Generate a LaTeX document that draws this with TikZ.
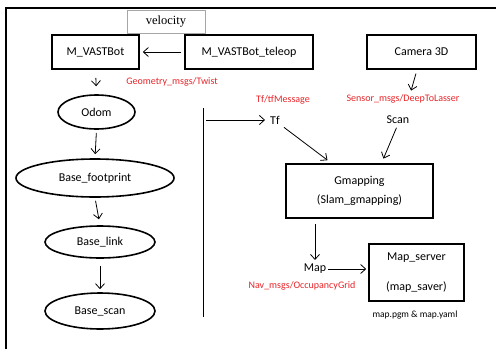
\documentclass[tikz,border=0pt]{standalone}
\usepackage{fontspec}
\setmainfont{Carlito}
\newfontfamily\serifface{Liberation Serif}
\usetikzlibrary{shapes.geometric,arrows.meta}
\definecolor{msgred}{RGB}{232,36,40}
\begin{document}
\begin{tikzpicture}[x=1pt,y=-1pt,
  box/.style={draw,line width=1.6pt,minimum width=#1,inner sep=0pt,font=\fontsize{12}{14}\selectfont},
  oval/.style={draw,ellipse,line width=1.6pt,inner sep=0pt,font=\fontsize{12}{14}\selectfont},
  lbl/.style={inner sep=0pt,font=\fontsize{12}{14}\selectfont},
  msg/.style={inner sep=0pt,text=msgred,font=\fontsize{10}{12}\selectfont},
  flow/.style={line width=0.8pt,-{Straight Barb[length=5pt,width=9pt]}},
  plain/.style={line width=1pt}]
\useasboundingbox (0,0) rectangle (496,349);
\fill[white] (0,0) rectangle (496,349);
% outer frame (top and left edges only)
\draw[line width=1.8pt] (6,349) -- (6,8) -- (496,8);

% nodes of the robot chain
\node[draw=black!35,line width=0.6pt,fill=white,minimum width=78pt,minimum height=23pt,
      font=\serifface\fontsize{12.5}{14}\selectfont] (vel) at (166,21.5) {velocity};
\node[box=87pt,minimum height=34pt] (bot) at (95.5,52) {M\_VASTBot};
\node[box=128pt,minimum height=34pt] (tele) at (249,52) {M\_VASTBot\_teleop};
\node[box=109pt,minimum height=34pt] (cam) at (421.5,52) {Camera 3D};
\node[oval,minimum width=77pt,minimum height=34pt] (odom) at (96.5,112) {Odom};
\node[oval,minimum width=158pt,minimum height=38pt] (foot) at (95,178) {Base\_footprint};
\node[oval,minimum width=110pt,minimum height=32pt] (link) at (100,242) {Base\_link};
\node[oval,minimum width=110pt,minimum height=36pt] (scanf) at (100,311) {Base\_scan};

% mapping side
\node[lbl] (tf) at (275,120) {Tf};
\node[lbl] (scan) at (398,120) {Scan};
\node[box=147pt,minimum height=54pt,align=center,
      font=\fontsize{12}{19}\selectfont] (gm) at (359.5,191) {Gmapping\\(Slam\_gmapping)};
\node[lbl] (map) at (315,269) {Map};
\node[box=95pt,minimum height=57pt,align=center,
      font=\fontsize{12}{30}\selectfont] (ms) at (416.5,272.5) {Map\_server\\(map\_saver)};

% message labels
\node[msg] (twist) at (172,82) {Geometry\_msgs/Twist};
\node[msg] (tfmsg) at (283,100) {Tf/tfMessage};
\node[msg] (sens) at (403,99) {Sensor\_msgs/DeepToLasser};
\node[msg] (grid) at (302,286) {Nav\_msgs/OccupancyGrid};
\node[inner sep=0pt,font=\fontsize{9.5}{11}\selectfont] (files) at (415,315) {map.pgm \& map.yaml};

% connectors
\draw[flow,shorten <=3pt,shorten >=3pt] (tele.west) -- (bot.east);
\draw[flow,shorten <=8pt,shorten >=8pt] (bot.south) -- (odom.north);
\draw[flow,shorten <=3pt,shorten >=4pt] (odom.south) -- (foot.north);
\draw[flow,shorten <=3pt,shorten >=6pt] (foot.south) -- (link.north);
\draw[flow,shorten <=7pt,shorten >=3pt] (link.south) -- (scanf.north);

\coordinate (vtop) at (203,108);
\coordinate (vbot) at (203,317);
\coordinate (hstart) at (206,120);
\draw[plain] (vtop) -- (vbot);
\draw[flow,shorten >=5pt] (hstart) -- (tf.west);

\draw[flow,shorten <=4pt,shorten >=4pt] ([xshift=-4.5pt]cam.south) -- ([xshift=7pt]sens.north);
\draw[flow,shorten <=5pt,shorten >=5pt] (tf.south east) -- ([xshift=-28pt]gm.north);
\draw[flow,shorten <=4pt,shorten >=5pt] (scan.south) -- ([xshift=22pt]gm.north);
\draw[flow,shorten <=5pt,shorten >=4pt] (gm.south -| map.north) -- (map.north);
\draw[flow,shorten <=2pt,shorten >=2pt] (map.east) -- (ms.west |- map.east);
\end{tikzpicture}
\end{document}
